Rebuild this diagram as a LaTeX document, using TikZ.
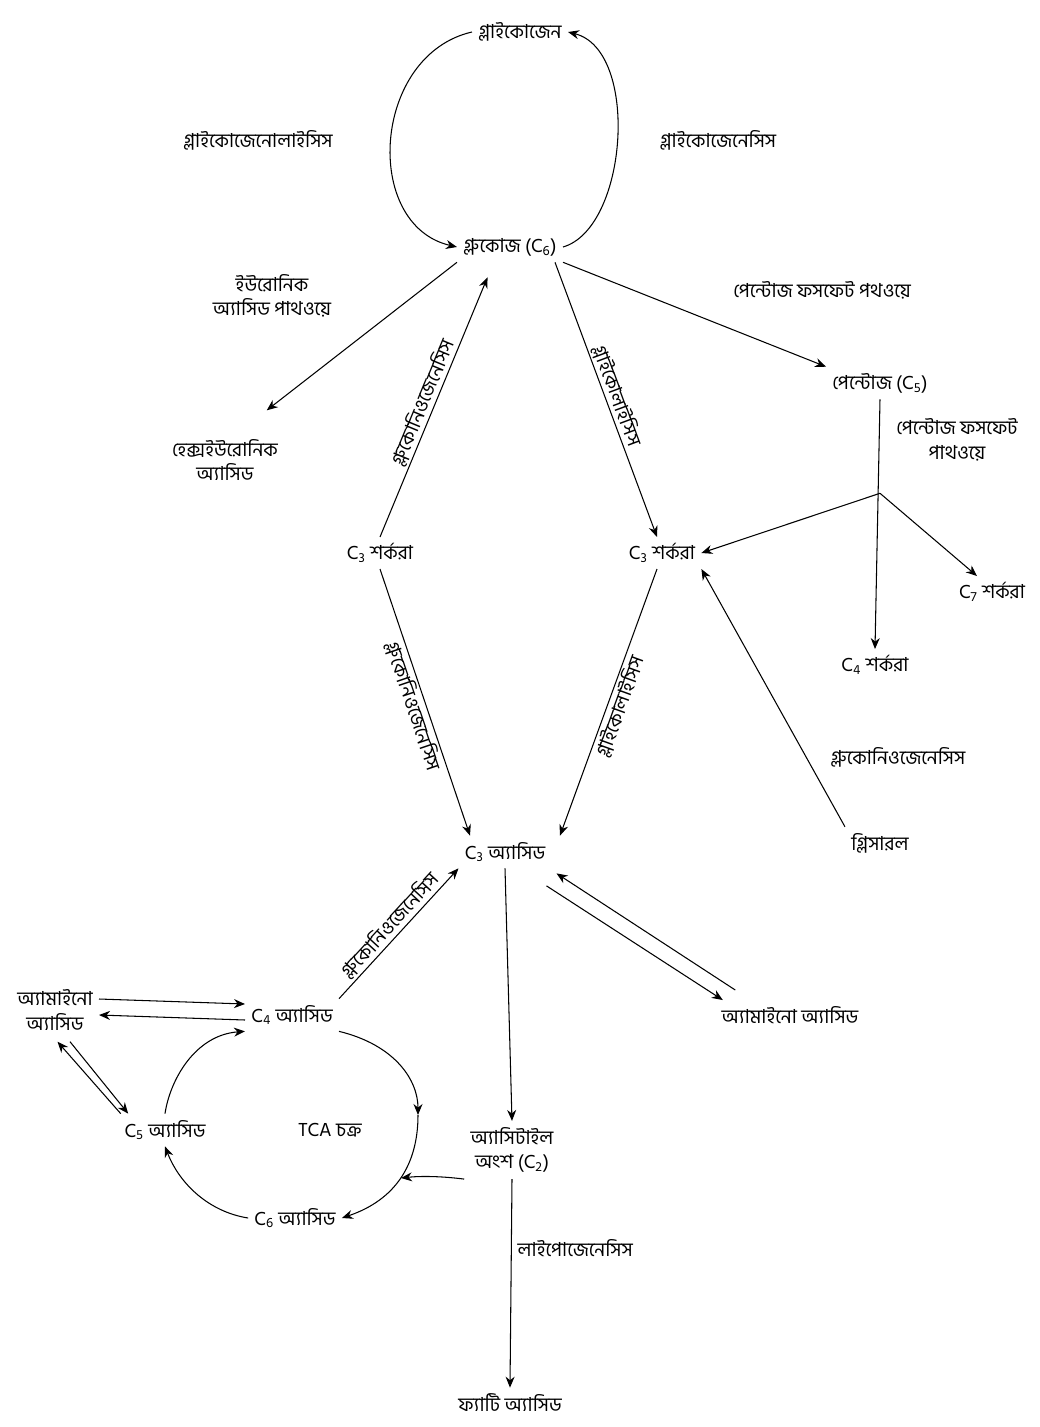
\documentclass[tikz,border=0pt]{standalone}
\usepackage{fontspec}
\setmainfont[Script=Bengali]{Hind Siliguri}
\usetikzlibrary{arrows.meta}
\newcommand{\cn}[1]{C\textsubscript{#1}}

\begin{document}
\begin{tikzpicture}[x=0.02cm, y=-0.02cm, font=\fontsize{11}{14}\selectfont,
    >={Stealth[length=2.2mm,width=1.8mm]}, line width=0.6pt]
  \useasboundingbox (0,0) rectangle (1040,1427);
  % glycogen cycle
  \node (gly)  at (520,32)  {গ্লাইকোজেন};
  \node (glc)  at (510,247) {গ্লুকোজ (\cn{6})};
  \node (glyl) at (258,140) {গ্লাইকোজেনোলাইসিস};
  \node (glyg) at (718,140) {গ্লাইকোজেনেসিস};
  \draw[->] (gly.west) .. controls (372,55) and (362,225) .. (glc.west);
  \draw[->] (glc.east) .. controls (628,228) and (640,50) .. (gly.east);

  % side pathways from glucose
  \node[align=center] (uro) at (272,296) {ইউরোনিক\\অ্যাসিড পাথওয়ে};
  \node[align=center] (hex) at (225,460) {হেক্সইউরোনিক\\অ্যাসিড};
  \node (ppl)  at (822,290) {পেন্টোজ ফসফেট পথওয়ে};
  \node (pen)  at (880,383) {পেন্টোজ (\cn{5})};
  \node[align=center] (ppl2) at (957,440) {পেন্টোজ ফসফেট\\পাথওয়ে};
  \draw[->] (glc.south west) -- ([xshift=-0.35cm,yshift=0.45cm]hex.north east);
  \draw[->] (glc.south east) -- (pen.north west);

  % three-carbon sugars
  \node (sugl) at (380,553) {\cn{3} শর্করা};
  \node (sugr) at (662,553) {\cn{3} শর্করা};
  \node (c7)   at (992,592) {\cn{7} শর্করা};
  \node (c4s)  at (875,665) {\cn{4} শর্করা};
  \path (pen.south) ++(0,94) coordinate (br);
  \draw[->] (pen.south) -- (c4s.north);
  \draw[->] (br) -- (sugr.east);
  \draw[->] (br) -- ([xshift=-0.3cm]c7.north);
  \draw[->] (sugl.north) -- ([xshift=-0.45cm,yshift=-0.3cm]glc.south)
    node[midway, sloped, above, inner sep=1pt] {গ্লুকোনিওজেনেসিস};
  \draw[->] ([xshift=0.9cm]glc.south) -- ([xshift=-0.1cm]sugr.north)
    node[midway, sloped, above, inner sep=1pt] {গ্লাইকোলাইসিস};

  % C3 acid
  \node (c3a)  at (505,852) {\cn{3} অ্যাসিড};
  \node (glr)  at (880,843) {গ্লিসারল};
  \node (gngl) at (898,757) {গ্লুকোনিওজেনেসিস};
  \draw[->] (sugl.south) -- ([xshift=-0.7cm]c3a.north)
    node[midway, sloped, below, inner sep=1pt] {গ্লুকোনিওজেনেসিস};
  \draw[->] ([xshift=-0.1cm]sugr.south) -- ([xshift=1.1cm]c3a.north)
    node[midway, sloped, below, inner sep=1pt] {গ্লাইকোলাইসিস};
  \draw[->] (glr.north west) -- (sugr.south east);

  \node (amr) at (790,1015) {অ্যামাইনো অ্যাসিড};
  \draw[->] ([xshift=0.4cm,yshift=0.2cm]amr.north west) -- ([xshift=0.1cm,yshift=-0.1cm]c3a.south east);
  \draw[->] ([xshift=-0.1cm,yshift=-0.35cm]c3a.south east) -- ([xshift=0.15cm]amr.north west);

  % TCA cycle
  \node (c4a) at (292,1015) {\cn{4} অ্যাসিড};
  \node[align=center] (aml) at (55,1010) {অ্যামাইনো\\অ্যাসিড};
  \node (c5a) at (165,1130) {\cn{5} অ্যাসিড};
  \node (tca) at (330,1130) {TCA চক্র};
  \node (c6a) at (295,1218) {\cn{6} অ্যাসিড};
  \node[align=center] (ace) at (512,1150) {অ্যাসিটাইল\\অংশ (\cn{2})};
  \node (fat) at (510,1403) {ফ্যাটি অ্যাসিড};
  \coordinate (mid)  at (418,1115);
  \coordinate (join) at (401,1178);

  \draw[->] (c4a.north east) -- (c3a.south west)
    node[midway, sloped, above, inner sep=1pt] {গ্লুকোনিওজেনেসিস};
  \draw[->] ([yshift=0.22cm]aml.east) -- ([yshift=0.22cm]c4a.west);
  \draw[->] ([yshift=-0.1cm]c4a.west) -- ([yshift=-0.1cm]aml.east);
  \draw[->] ([xshift=0.3cm,yshift=-0.1cm]aml.south) -- ([xshift=0.2cm]c5a.north west);
  \draw[->] ([xshift=0.05cm]c5a.north west) -- ([xshift=0.05cm,yshift=-0.1cm]aml.south);
  \draw[->] (c4a.south east) .. controls (395,1045) and (418,1080) .. (mid);
  \draw[->] (mid) .. controls (418,1165) and (395,1200) .. (c6a.east);
  \draw[->] (c6a.west) .. controls (210,1212) and (180,1185) .. (c5a.south);
  \draw[->] (c5a.north) .. controls (170,1080) and (195,1035) .. (c4a.south west);
  \draw[->] (ace.south west) .. controls (440,1176) and (420,1176) .. (join);

  \draw[->] (c3a.south) -- (ace.north);
  \draw[->] (ace.south) -- (fat.north)
    node[pos=0.33, right] {লাইপোজেনেসিস};
\end{tikzpicture}
\end{document}
